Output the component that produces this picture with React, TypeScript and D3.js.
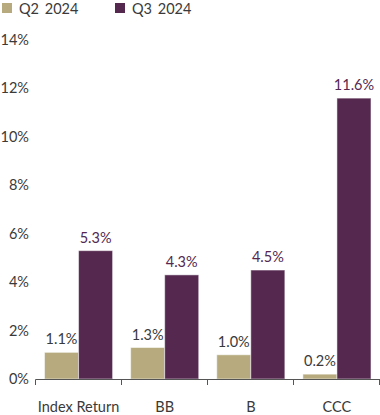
import React from "react";
import * as d3 from "d3";

const categories = ["Index Return", "BB", "B", "CCC"];
const seriesNames = ["Q2 2024", "Q3 2024"];
const q2Values = [1.1, 1.3, 1.0, 0.2];
const q3Values = [5.3, 4.3, 4.5, 11.6];
const yTicks = [0, 2, 4, 6, 8, 10, 12, 14];
const colors = ["#b6aa7e", "#54284f"];
const labelColors = ["#3a3a3a", "#54284f"];

const W = 380;
const H = 415;
const FONT = "Lato, 'Open Sans', sans-serif";

export default function App() {
  const x = d3.scaleBand<string>().domain(categories).range([35.5, 380]).paddingInner(0).paddingOuter(0);
  const y = d3.scaleLinear().domain([0, 14]).range([379, 40]);
  const inner = d3.scaleBand<string>().domain(seriesNames).range([0, x.bandwidth()]).paddingInner(0).paddingOuter(0.265);
  const series = [q2Values, q3Values];

  return (
    <svg width={W} height={H} style={{ position: "absolute", left: 0, top: 0 }} fontFamily={FONT}>
      {/* legend */}
      {seriesNames.map((s, i) => (
        <g key={s} transform={`translate(${i === 0 ? 2 : 115},0)`}>
          <rect x={0} y={3} width={10} height={10} fill={colors[i]} />
          <text x={17} y={13.5} fontSize={14.5} fill="#3a3a3a" wordSpacing={2}>{s}</text>
        </g>
      ))}
      {/* y ticks */}
      {yTicks.map((t) => (
        <text key={t} x={29} y={y(t) + 5} textAnchor="end" fontSize={14.5} fill="#3a3a3a">{`${t}%`}</text>
      ))}
      {/* bars */}
      {categories.map((c, ci) => (
        <g key={c} transform={`translate(${x(c)},0)`}>
          {series.map((vals, si) => {
            const bx = inner(seriesNames[si])!;
            const bw = inner.bandwidth();
            const v = vals[ci];
            return (
              <g key={si}>
                <rect x={bx} y={y(v)} width={bw} height={y(0) - y(v)} fill={colors[si]} stroke="#ffffff" strokeOpacity={0.5} strokeWidth={1} />
                <text x={bx + bw / 2} y={y(v) - 8} textAnchor="middle" fontSize={14.5} fill={labelColors[si]}>{`${v.toFixed(1)}%`}</text>
              </g>
            );
          })}
          <text x={x.bandwidth() / 2} y={412} textAnchor="middle" fontSize={14.5} fill="#3a3a3a">{c}</text>
        </g>
      ))}
      {/* x axis */}
      <line x1={35.5} x2={380} y1={379.5} y2={379.5} stroke="#555" strokeWidth={1} />
      {d3.range(categories.length + 1).map((i) => {
        const px = Math.round(35.5 + i * x.bandwidth()) - 0.5;
        return <line key={i} x1={px} x2={px} y1={379.5} y2={385} stroke="#555" strokeWidth={1} />;
      })}
    </svg>
  );
}
